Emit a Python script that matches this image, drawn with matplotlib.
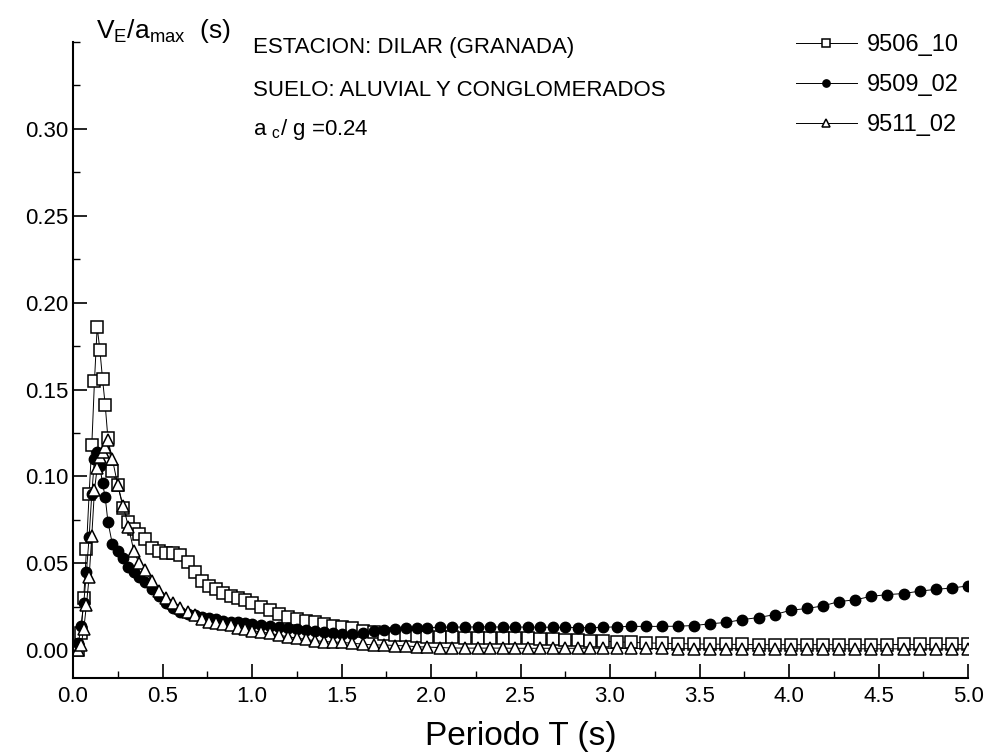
import numpy as np
import matplotlib
matplotlib.use("Agg")
import matplotlib.pyplot as plt

plt.rcParams["font.family"] = ["Liberation Sans", "DejaVu Sans"]
plt.rcParams["mathtext.fontset"] = "custom"
plt.rcParams["mathtext.rm"] = "Liberation Sans"

# periods (s)
periodo = [0.03, 0.045, 0.06, 0.075, 0.09, 0.105, 0.12, 0.135, 0.15, 0.165, 0.18, 0.195,
           0.22, 0.25, 0.28, 0.31, 0.34, 0.37, 0.40,
           0.44, 0.48, 0.52, 0.56, 0.60, 0.64, 0.68, 0.72, 0.76, 0.80, 0.84, 0.88, 0.92, 0.96, 1.00,
           1.05, 1.10, 1.15, 1.20, 1.25, 1.30, 1.35, 1.40, 1.45, 1.50,
           1.56, 1.62, 1.68, 1.74, 1.80, 1.86, 1.92, 1.98,
           2.05, 2.12, 2.19, 2.26, 2.33, 2.40, 2.47, 2.54, 2.61, 2.68, 2.75, 2.82, 2.89, 2.96,
           3.04, 3.12, 3.20, 3.29, 3.38, 3.47, 3.56, 3.65, 3.74, 3.83, 3.92, 4.01, 4.10, 4.19,
           4.28, 4.37, 4.46, 4.55, 4.64, 4.73, 4.82, 4.91, 5.00]

s9506_10 = [0.000, 0.010, 0.030, 0.058, 0.090, 0.118, 0.155, 0.186, 0.173, 0.156, 0.141, 0.122,
            0.103, 0.095, 0.082, 0.074, 0.070, 0.067, 0.064,
            0.059, 0.057, 0.056, 0.056, 0.055, 0.051, 0.045, 0.040, 0.037, 0.035, 0.033, 0.031, 0.030, 0.029, 0.027,
            0.025, 0.023, 0.021, 0.019, 0.0178, 0.0168, 0.016, 0.0152, 0.0142, 0.0135,
            0.0125, 0.011, 0.0105, 0.0095, 0.009, 0.0085, 0.008, 0.0078,
            0.0075, 0.0074, 0.0073, 0.0072, 0.0072, 0.0071, 0.0070, 0.0068, 0.0065, 0.0062, 0.0060, 0.0058, 0.0055, 0.0052,
            0.0048, 0.0045, 0.0042, 0.0040, 0.0038, 0.0036, 0.0035, 0.0034, 0.0033, 0.0032, 0.0032, 0.0032, 0.0032, 0.0032,
            0.0032, 0.0032, 0.0032, 0.0032, 0.0033, 0.0033, 0.0033, 0.0033, 0.0033]

s9509_02 = [0.004, 0.014, 0.027, 0.045, 0.065, 0.090, 0.110, 0.114, 0.106, 0.096, 0.088, 0.074,
            0.061, 0.057, 0.053, 0.048, 0.045, 0.042, 0.039,
            0.035, 0.031, 0.027, 0.024, 0.022, 0.021, 0.020, 0.019, 0.0185, 0.018, 0.017, 0.0165, 0.016, 0.0155, 0.015,
            0.0145, 0.014, 0.0135, 0.013, 0.0122, 0.0115, 0.011, 0.0105, 0.010, 0.0095,
            0.0095, 0.010, 0.0108, 0.0115, 0.012, 0.0125, 0.013, 0.013,
            0.0132, 0.0133, 0.0133, 0.0134, 0.0134, 0.0133, 0.0133, 0.0133, 0.0132, 0.0132, 0.0131, 0.013, 0.013, 0.0131,
            0.0135, 0.0137, 0.0137, 0.0137, 0.0138, 0.0142, 0.0152, 0.016, 0.0176, 0.0188, 0.0205, 0.023, 0.024, 0.0255,
            0.028, 0.029, 0.031, 0.032, 0.0326, 0.034, 0.035, 0.0358, 0.037]

s9511_02 = [0.000, 0.003, 0.012, 0.026, 0.042, 0.066, 0.092, 0.105, 0.111, 0.114, 0.117, 0.121,
            0.110, 0.095, 0.083, 0.071, 0.057, 0.050, 0.046,
            0.040, 0.034, 0.030, 0.027, 0.024, 0.022, 0.020, 0.018, 0.0165, 0.0158, 0.015, 0.0143, 0.013, 0.012, 0.0113,
            0.0105, 0.0097, 0.0087, 0.0077, 0.0070, 0.0062, 0.0055, 0.0050, 0.0047, 0.0045,
            0.0040, 0.0035, 0.0030, 0.0030, 0.0027, 0.0025, 0.0020, 0.0018,
            0.0015, 0.0013, 0.0012, 0.0012, 0.0012, 0.0012, 0.0011, 0.0011, 0.0011, 0.0011, 0.0011, 0.0011, 0.0011, 0.0011,
            0.0010, 0.0010, 0.0010, 0.0010, 0.0009, 0.0009, 0.0009, 0.0009, 0.0009, 0.0009, 0.0008, 0.0008, 0.0008, 0.0008,
            0.0008, 0.0008, 0.0008, 0.0008, 0.0008, 0.0008, 0.0008, 0.0008, 0.0008]

W, H = 989, 753
fig = plt.figure(figsize=(W / 100, H / 100), dpi=100)
ax = fig.add_axes([73 / W, 1 - 678 / H, (968 - 73) / W, (678 - 42) / H])

ax.plot(periodo, s9506_10, color="black", lw=0.7, marker="s", ms=8,
        mfc="white", mec="black", mew=1.1, label="9506_10")
ax.plot(periodo, s9509_02, color="black", lw=0.7, marker="o", ms=7.5,
        mfc="black", mec="black", mew=1.0, label="9509_02")
ax.plot(periodo, s9511_02, color="black", lw=0.7, marker="^", ms=9,
        mfc="white", mec="black", mew=1.1, label="9511_02")

ax.set_xlim(0, 5.0)
ax.set_ylim(-0.016, 0.35)
ax.set_xticks(np.arange(0, 5.01, 0.5))
ax.set_xticks(np.arange(0.25, 5.0, 0.5), minor=True)
ax.set_yticks([0.0, 0.05, 0.10, 0.15, 0.20, 0.25, 0.30])
ax.set_yticks([0.025, 0.075, 0.125, 0.175, 0.225, 0.275, 0.325, 0.35], minor=True)
ax.set_yticklabels(["0.00", "0.05", "0.10", "0.15", "0.20", "0.25", "0.30"])
ax.set_xticklabels(["0.0", "0.5", "1.0", "1.5", "2.0", "2.5", "3.0", "3.5", "4.0", "4.5", "5.0"])
ax.tick_params(which="major", direction="in", length=10, width=1.2, labelsize=16)
ax.tick_params(which="minor", direction="in", length=5, width=1.0)
ax.tick_params(axis="x", pad=6)
ax.tick_params(axis="y", pad=3)

for side in ["top", "right"]:
    ax.spines[side].set_visible(False)
for side in ["left", "bottom"]:
    ax.spines[side].set_linewidth(1.5)

ax.set_xlabel("Periodo T (s)", fontsize=24, labelpad=10)

fig.text(96 / W, 1 - 38 / H, r"V$_{\mathrm{E}}$/a$_{\mathrm{max}}$  (s)", fontsize=19,
         ha="left", va="baseline")

fig.text(253 / W, 1 - 47 / H, "ESTACION: DILAR (GRANADA)", fontsize=16, ha="left", va="center")
fig.text(253 / W, 1 - 90 / H, "SUELO: ALUVIAL Y CONGLOMERADOS", fontsize=16, ha="left", va="center")
fig.text(253 / W, 1 - 130 / H, r"a $_{\mathrm{c}}$/ g =0.24", fontsize=16, ha="left", va="center")

ax.legend(loc="upper right", bbox_to_anchor=(1.0, 1.0 + 17 / 636), frameon=False,
          fontsize=17, handlelength=2.6, handletextpad=0.4, labelspacing=0.76,
          numpoints=1, markerscale=0.7, borderaxespad=0.0)

fig.savefig("out.png", dpi=100)
